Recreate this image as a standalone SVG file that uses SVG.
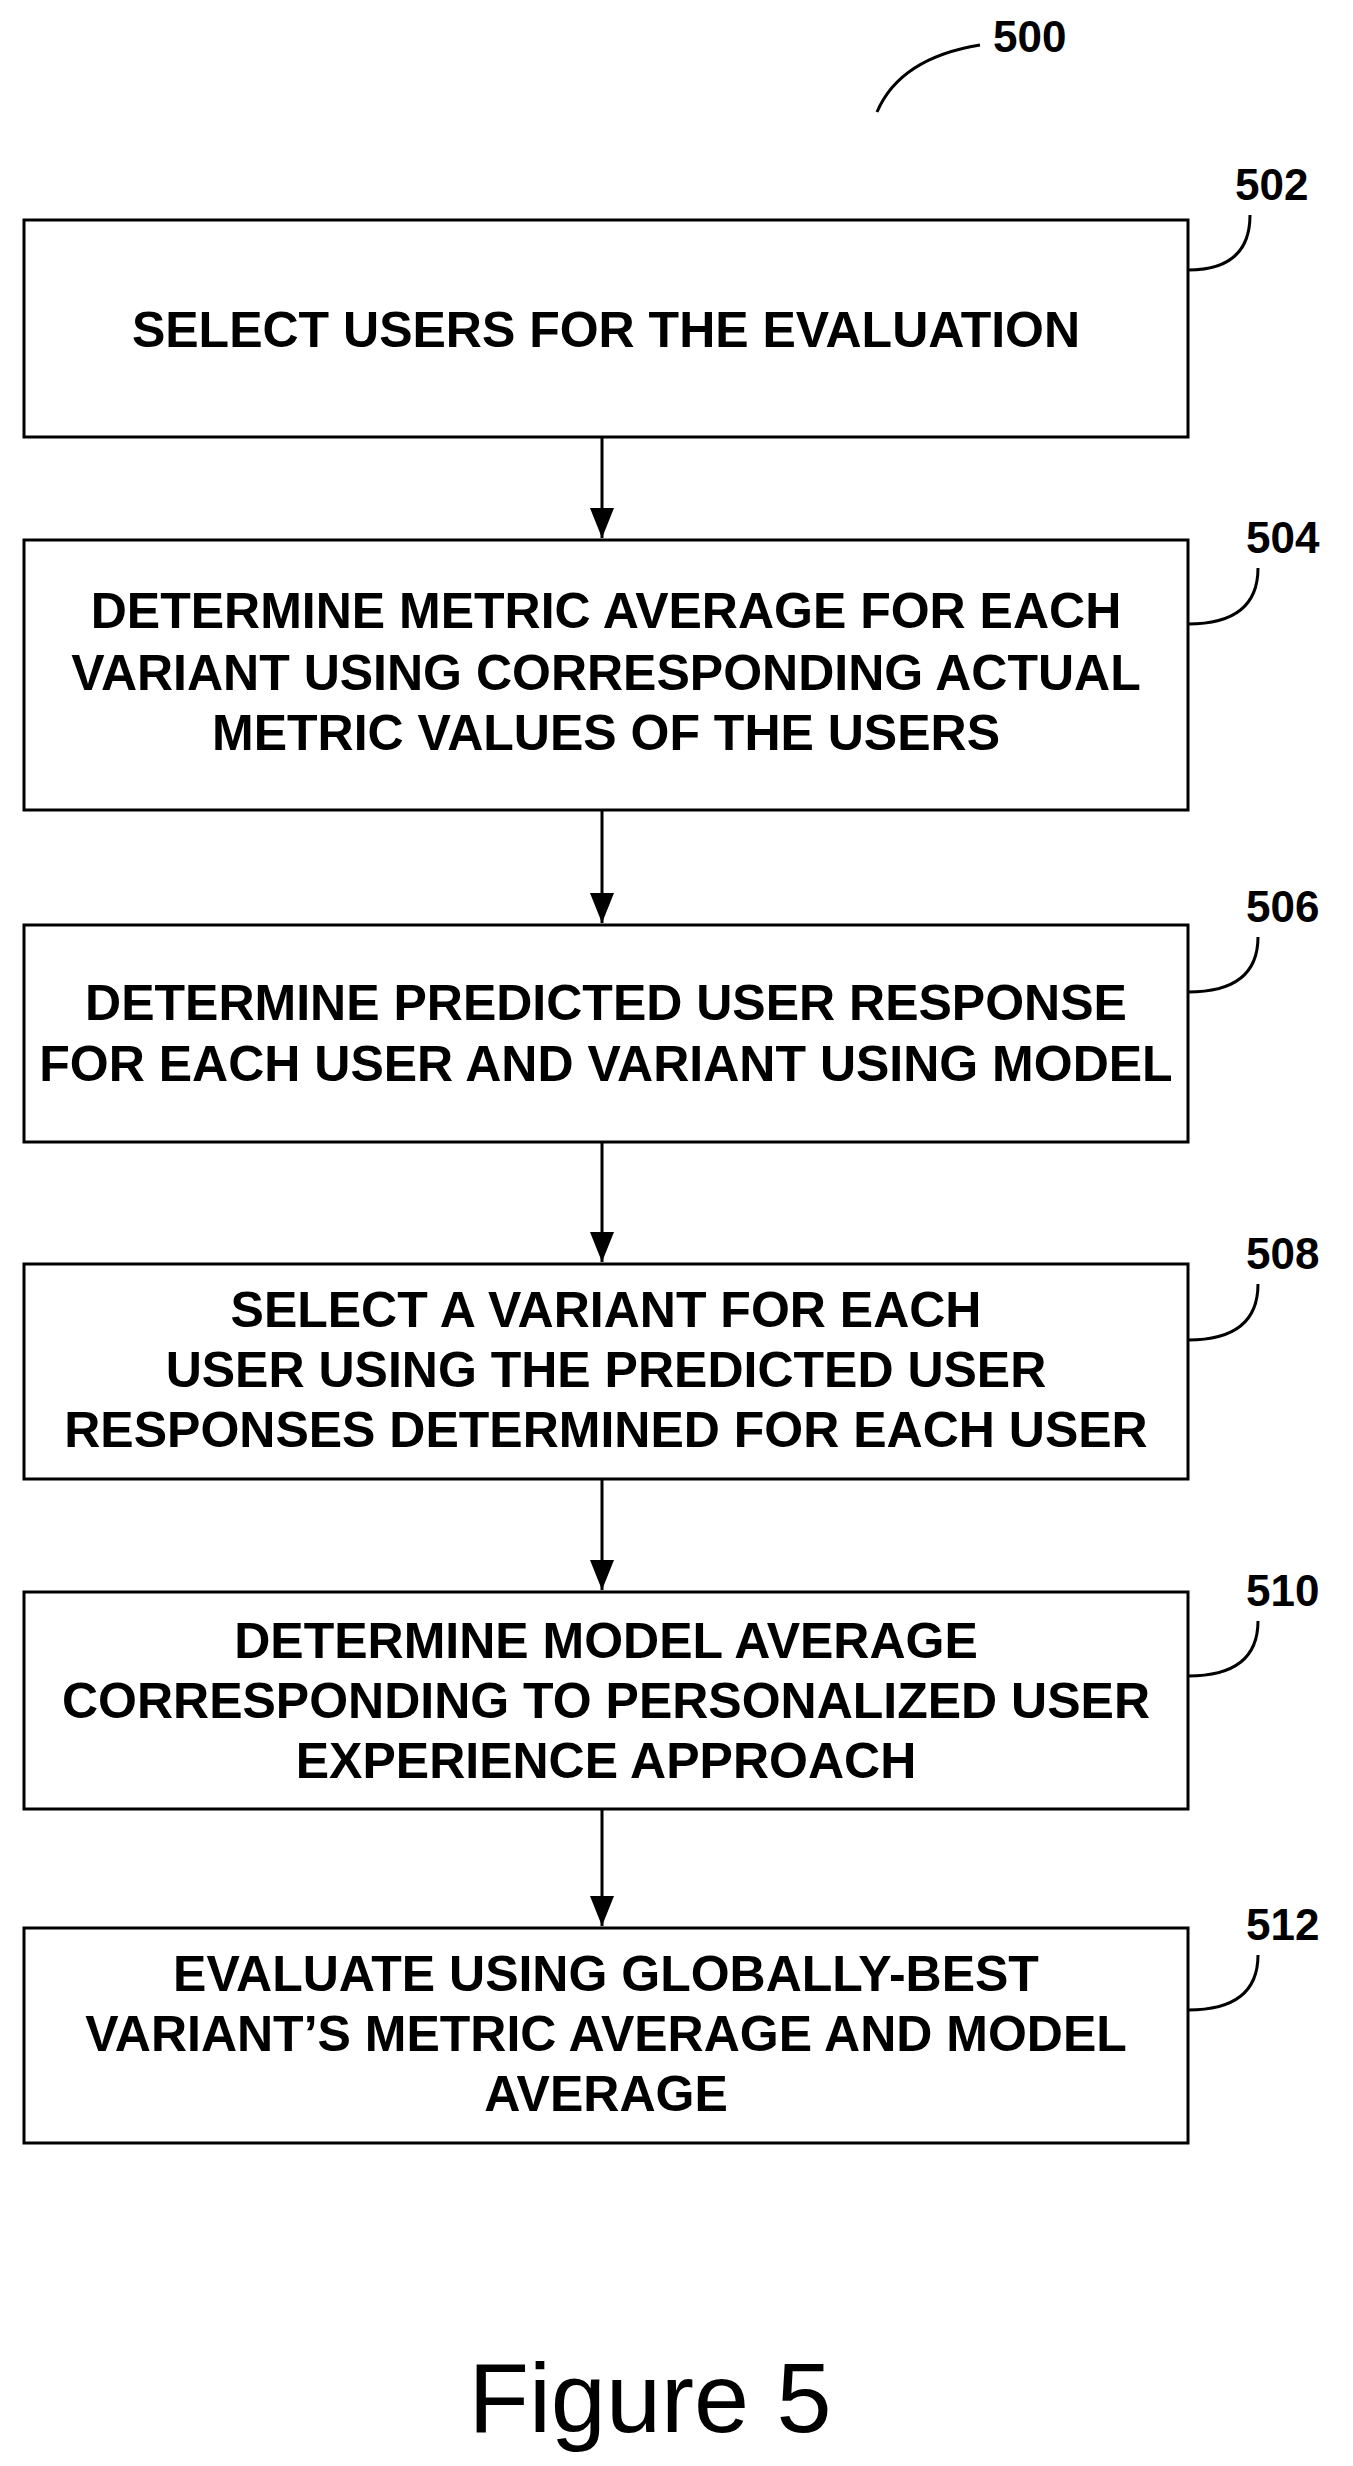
<svg xmlns="http://www.w3.org/2000/svg" width="1353" height="2466" viewBox="0 0 1353 2466">
<defs>
<marker id="a" viewBox="0 0 10 10" refX="10" refY="5" markerWidth="30" markerHeight="30" markerUnits="userSpaceOnUse" orient="auto"><path d="M0,1 L10,5 L0,9 z" fill="#000"/></marker></defs>
<style>
.b{fill:#fff;stroke:#000;stroke-width:3}
.t{font-family:"Liberation Sans",Arial,sans-serif;font-weight:bold;font-size:50px;text-anchor:middle}
.n{font-family:"Liberation Sans",Arial,sans-serif;font-weight:bold;font-size:44px}
.c{fill:none;stroke:#000;stroke-width:3}
</style>
<rect width="1353" height="2466" fill="#fff"/>
<g id="ref500"><path class="c" d="M877,112 Q900,58 980,45"/><text class="n" x="993" y="52">500</text></g>
<g id="n502"><rect class="b" x="24" y="220" width="1164" height="217"/><text class="t" x="606" y="347">SELECT USERS FOR THE EVALUATION</text><path class="c" d="M1188,270 Q1250,270 1250,215"/><text class="n" x="1235" y="200">502</text></g>
<g id="n504"><rect class="b" x="24" y="540" width="1164" height="270"/><text class="t" x="606" y="628">DETERMINE METRIC AVERAGE FOR EACH</text><text class="t" x="606" y="690">VARIANT USING CORRESPONDING ACTUAL</text><text class="t" x="606" y="750">METRIC VALUES OF THE USERS</text><path class="c" d="M1188,624 Q1258,624 1258,568"/><text class="n" x="1246" y="553">504</text></g>
<g id="n506"><rect class="b" x="24" y="925" width="1164" height="217"/><text class="t" x="606" y="1020">DETERMINE PREDICTED USER RESPONSE</text><text class="t" x="606" y="1081">FOR EACH USER AND VARIANT USING MODEL</text><path class="c" d="M1188,992 Q1258,992 1258,937"/><text class="n" x="1246" y="922">506</text></g>
<g id="n508"><rect class="b" x="24" y="1264" width="1164" height="215"/><text class="t" x="606" y="1327">SELECT A VARIANT FOR EACH</text><text class="t" x="606" y="1387">USER USING THE PREDICTED USER</text><text class="t" x="606" y="1447">RESPONSES DETERMINED FOR EACH USER</text><path class="c" d="M1188,1340 Q1258,1340 1258,1284"/><text class="n" x="1246" y="1269">508</text></g>
<g id="n510"><rect class="b" x="24" y="1592" width="1164" height="217"/><text class="t" x="606" y="1658">DETERMINE MODEL AVERAGE</text><text class="t" x="606" y="1718">CORRESPONDING TO PERSONALIZED USER</text><text class="t" x="606" y="1778">EXPERIENCE APPROACH</text><path class="c" d="M1188,1676 Q1258,1676 1258,1621"/><text class="n" x="1246" y="1606">510</text></g>
<g id="n512"><rect class="b" x="24" y="1928" width="1164" height="215"/><text class="t" x="606" y="1991">EVALUATE USING GLOBALLY-BEST</text><text class="t" x="606" y="2051">VARIANT’S METRIC AVERAGE AND MODEL</text><text class="t" x="606" y="2111">AVERAGE</text><path class="c" d="M1188,2010 Q1258,2010 1258,1955"/><text class="n" x="1246" y="1940">512</text></g>
<g id="connectors">
<line class="c" x1="602" y1="437" x2="602" y2="538" marker-end="url(#a)"/>
<line class="c" x1="602" y1="810" x2="602" y2="923" marker-end="url(#a)"/>
<line class="c" x1="602" y1="1142" x2="602" y2="1262" marker-end="url(#a)"/>
<line class="c" x1="602" y1="1479" x2="602" y2="1590" marker-end="url(#a)"/>
<line class="c" x1="602" y1="1809" x2="602" y2="1926" marker-end="url(#a)"/>
</g>
<text x="650" y="2432" style="font-family:'Liberation Sans',Arial,sans-serif;font-size:99px;text-anchor:middle">Figure 5</text>
</svg>
